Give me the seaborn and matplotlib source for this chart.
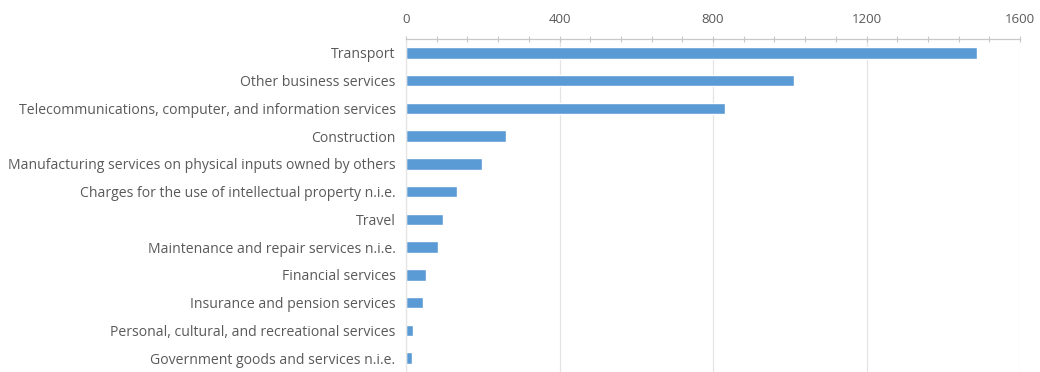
import matplotlib
matplotlib.use("Agg")
import matplotlib.pyplot as plt
from matplotlib.ticker import MultipleLocator
import seaborn as sns
import pandas as pd

categories = [
    "Transport",
    "Other business services",
    "Telecommunications, computer, and information services",
    "Construction",
    "Manufacturing services on physical inputs owned by others",
    "Charges for the use of intellectual property n.i.e.",
    "Travel",
    "Maintenance and repair services n.i.e.",
    "Financial services",
    "Insurance and pension services",
    "Personal, cultural, and recreational services",
    "Government goods and services n.i.e.",
]
values = [1488, 1011, 830, 261, 197, 134, 96, 84, 51, 45, 18, 15]
x_ticks = [0, 400, 800, 1200, 1600]

sns.set_theme(style="white")
plt.rcParams["font.family"] = ["Open Sans", "DejaVu Sans"]

df = pd.DataFrame({"category": categories, "value": values})

fig = plt.figure(figsize=(10.4, 3.72), dpi=100)
ax = fig.add_axes([406 / 1040, 0.0, 614 / 1040, 1 - 39 / 372])

sns.barplot(data=df, x="value", y="category", orient="h", color="#5B9BD5",
            saturation=1, width=0.42, ax=ax)

ax.set_xlim(0, 1600)
ax.set_ylim(len(categories) - 0.5, -0.5)
ax.set_xticks(x_ticks)
ax.xaxis.set_minor_locator(MultipleLocator(80))
ax.xaxis.tick_top()
ax.xaxis.set_label_position("top")
ax.set_xlabel("")
ax.set_ylabel("")

ax.grid(axis="x", color="#E4E4E4", linewidth=0.9)
ax.set_axisbelow(True)

for side in ["bottom", "right"]:
    ax.spines[side].set_visible(False)
ax.spines["top"].set_color("#C8C8C8")
ax.spines["top"].set_linewidth(0.9)
ax.spines["left"].set_color("#E4E4E4")
ax.spines["left"].set_linewidth(0.9)

ax.tick_params(axis="x", which="both", top=True, bottom=False, direction="inout",
               color="#C8C8C8", width=0.8, labelsize=9.5, labelcolor="#595959", pad=7)
ax.tick_params(axis="x", which="major", length=5)
ax.tick_params(axis="x", which="minor", length=4)
ax.tick_params(axis="y", left=False, labelsize=10.1, labelcolor="#595959", pad=1.5)

fig.savefig("out.png", dpi=100)
